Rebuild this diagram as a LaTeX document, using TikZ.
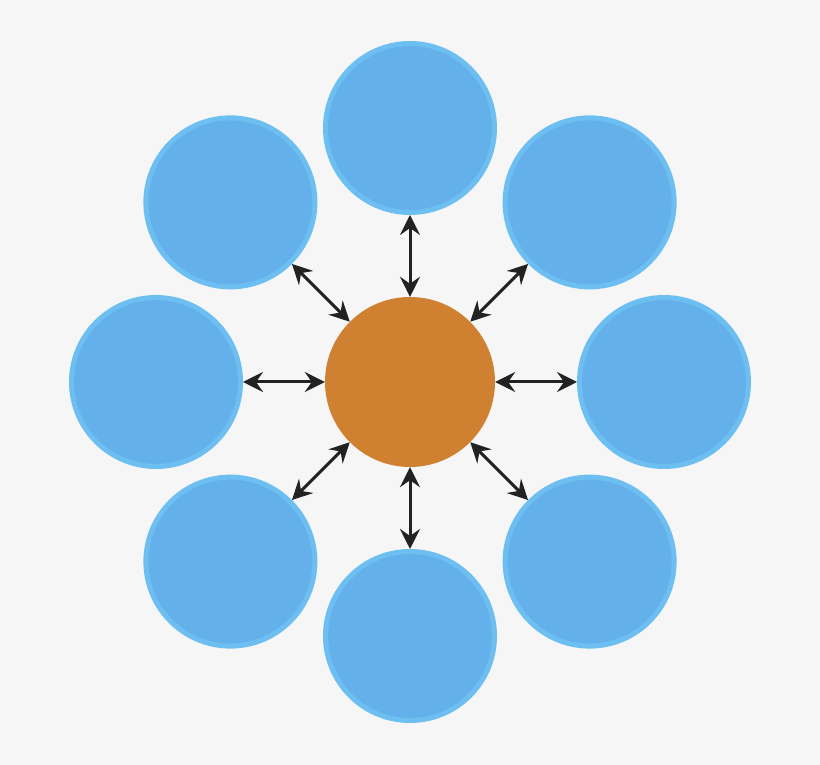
\documentclass[tikz,border=0pt]{standalone}
\usetikzlibrary{arrows.meta,calc}
\definecolor{bg}{HTML}{F6F6F6}
\definecolor{bluefill}{HTML}{63B0EA}
\definecolor{blueedge}{HTML}{6DBFF2}
\definecolor{orangefill}{HTML}{CF8031}
\definecolor{arrowcol}{HTML}{222222}
\tikzset{
  outer/.style={circle, minimum size=169pt, inner sep=0pt, fill=bluefill, draw=blueedge, line width=5pt},
  hub/.style={circle, minimum size=170pt, inner sep=0pt, fill=orangefill},
  link/.style={line width=3pt, draw=arrowcol, {Stealth[length=20pt,width=20pt,inset=7pt]}-{Stealth[length=20pt,width=20pt,inset=7pt]}}
}
\begin{document}
\begin{tikzpicture}[x=1pt,y=1pt]
\fill[bg] (0,0) rectangle (820,765);
\useasboundingbox (0,0) rectangle (820,765);
\node[hub] (c) at (410,383) {};
\foreach \i/\a in {n/90, ne/45, e/0, se/-45, s/-90, sw/-135, w/180, nw/135} {
  \node[outer] (\i) at ($(410,383)+(\a:254)$) {};
}
\foreach \i in {n,ne,e,se,s,sw,w,nw} {
  \draw[link] (\i) -- (c);
}
\end{tikzpicture}
\end{document}
